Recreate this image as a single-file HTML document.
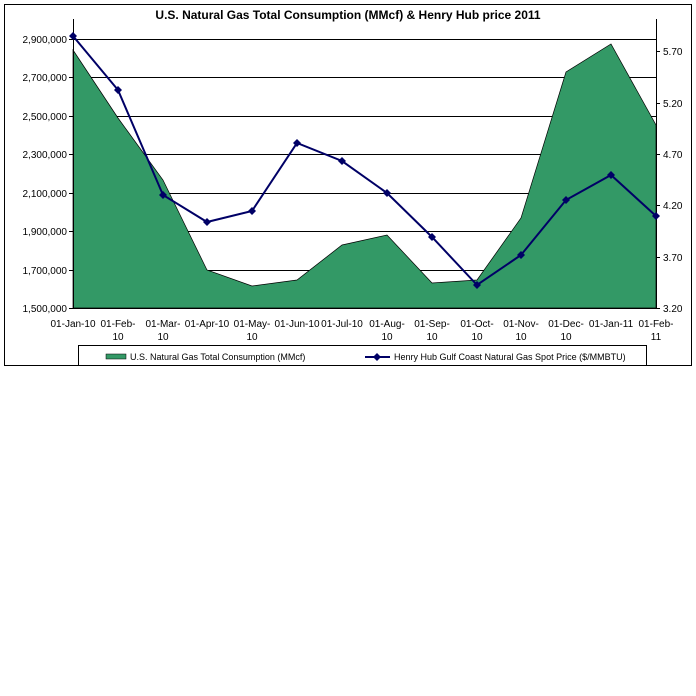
<!DOCTYPE html><html><head><style>body{margin:0;background:#fff}svg{display:block}text{font-family:"Liberation Sans",sans-serif;font-size:10px;fill:#000}</style></head><body>
<svg width="696" height="696" viewBox="0 0 696 696">
<rect x="4.5" y="4.5" width="687" height="361" fill="#fff" stroke="#000"/>
<text x="348" y="19" text-anchor="middle" style="font-size:12px;font-weight:bold">U.S. Natural Gas Total Consumption (MMcf) &amp; Henry Hub price 2011</text>
<g stroke="#000" stroke-width="1">
<line x1="73" y1="39.5" x2="656" y2="39.5"/><line x1="73" y1="77.5" x2="656" y2="77.5"/><line x1="73" y1="116.5" x2="656" y2="116.5"/><line x1="73" y1="154.5" x2="656" y2="154.5"/><line x1="73" y1="193.5" x2="656" y2="193.5"/><line x1="73" y1="231.5" x2="656" y2="231.5"/><line x1="73" y1="270.5" x2="656" y2="270.5"/>
</g>
<polygon points="73,50 118,118 163,180 207,270 252,286 297,280 342,245 387,235 432,283 477,280 521,218 566,72 611,44 656,125 656,308 73,308" fill="#339966" stroke="#000" stroke-width="0.7"/>
<g stroke="#000"><line x1="73.5" y1="19" x2="73.5" y2="308"/><line x1="656.5" y1="19" x2="656.5" y2="308"/><line x1="73" y1="308.5" x2="656" y2="308.5"/>
<path d="M69 39.5h4M69 77.5h4M69 116.5h4M69 154.5h4M69 193.5h4M69 231.5h4M69 270.5h4M69 308.5h4M656 51.5h4M656 103.5h4M656 154.5h4M656 205.5h4M656 257.5h4M656 308.5h4"/></g>
<g text-anchor="end"><text x="67" y="43">2,900,000</text><text x="67" y="81">2,700,000</text><text x="67" y="120">2,500,000</text><text x="67" y="158">2,300,000</text><text x="67" y="197">2,100,000</text><text x="67" y="235">1,900,000</text><text x="67" y="274">1,700,000</text><text x="67" y="312">1,500,000</text></g>
<g><text x="663" y="55">5.70</text><text x="663" y="107">5.20</text><text x="663" y="158">4.70</text><text x="663" y="209">4.20</text><text x="663" y="261">3.70</text><text x="663" y="312">3.20</text></g>
<polyline points="73,36 118,90 163,195 207,222 252,211 297,143 342,161 387,193 432,237 477,285 521,255 566,200 611,175 656,216" fill="none" stroke="#000066" stroke-width="2"/>
<g fill="#000066"><path d="M73 32l4 4-4 4-4-4zM118 86l4 4-4 4-4-4zM163 191l4 4-4 4-4-4zM207 218l4 4-4 4-4-4zM252 207l4 4-4 4-4-4zM297 139l4 4-4 4-4-4zM342 157l4 4-4 4-4-4zM387 189l4 4-4 4-4-4zM432 233l4 4-4 4-4-4zM477 281l4 4-4 4-4-4zM521 251l4 4-4 4-4-4zM566 196l4 4-4 4-4-4zM611 171l4 4-4 4-4-4zM656 212l4 4-4 4-4-4z"/></g>
<g text-anchor="middle"><text x="73" y="327">01-Jan-10</text><text x="118" y="327">01-Feb-</text><text x="118" y="340">10</text><text x="163" y="327">01-Mar-</text><text x="163" y="340">10</text><text x="207" y="327">01-Apr-10</text><text x="252" y="327">01-May-</text><text x="252" y="340">10</text><text x="297" y="327">01-Jun-10</text><text x="342" y="327">01-Jul-10</text><text x="387" y="327">01-Aug-</text><text x="387" y="340">10</text><text x="432" y="327">01-Sep-</text><text x="432" y="340">10</text><text x="477" y="327">01-Oct-</text><text x="477" y="340">10</text><text x="521" y="327">01-Nov-</text><text x="521" y="340">10</text><text x="566" y="327">01-Dec-</text><text x="566" y="340">10</text><text x="611" y="327">01-Jan-11</text><text x="656" y="327">01-Feb-</text><text x="656" y="340">11</text></g>
<rect x="78.5" y="345.5" width="568" height="20" fill="#fff" stroke="#000"/>
<rect x="106" y="354" width="20" height="5" fill="#339966" stroke="#000" stroke-width="0.5"/>
<text x="130" y="360" style="font-size:9px">U.S. Natural Gas Total Consumption (MMcf)</text>
<line x1="365" y1="357" x2="390" y2="357" stroke="#000066" stroke-width="2"/><path d="M377 353l4 4-4 4-4-4z" fill="#000066"/>
<text x="394" y="360" style="font-size:9px">Henry Hub Gulf Coast Natural Gas Spot Price ($/MMBTU)</text>
</svg></body></html>
